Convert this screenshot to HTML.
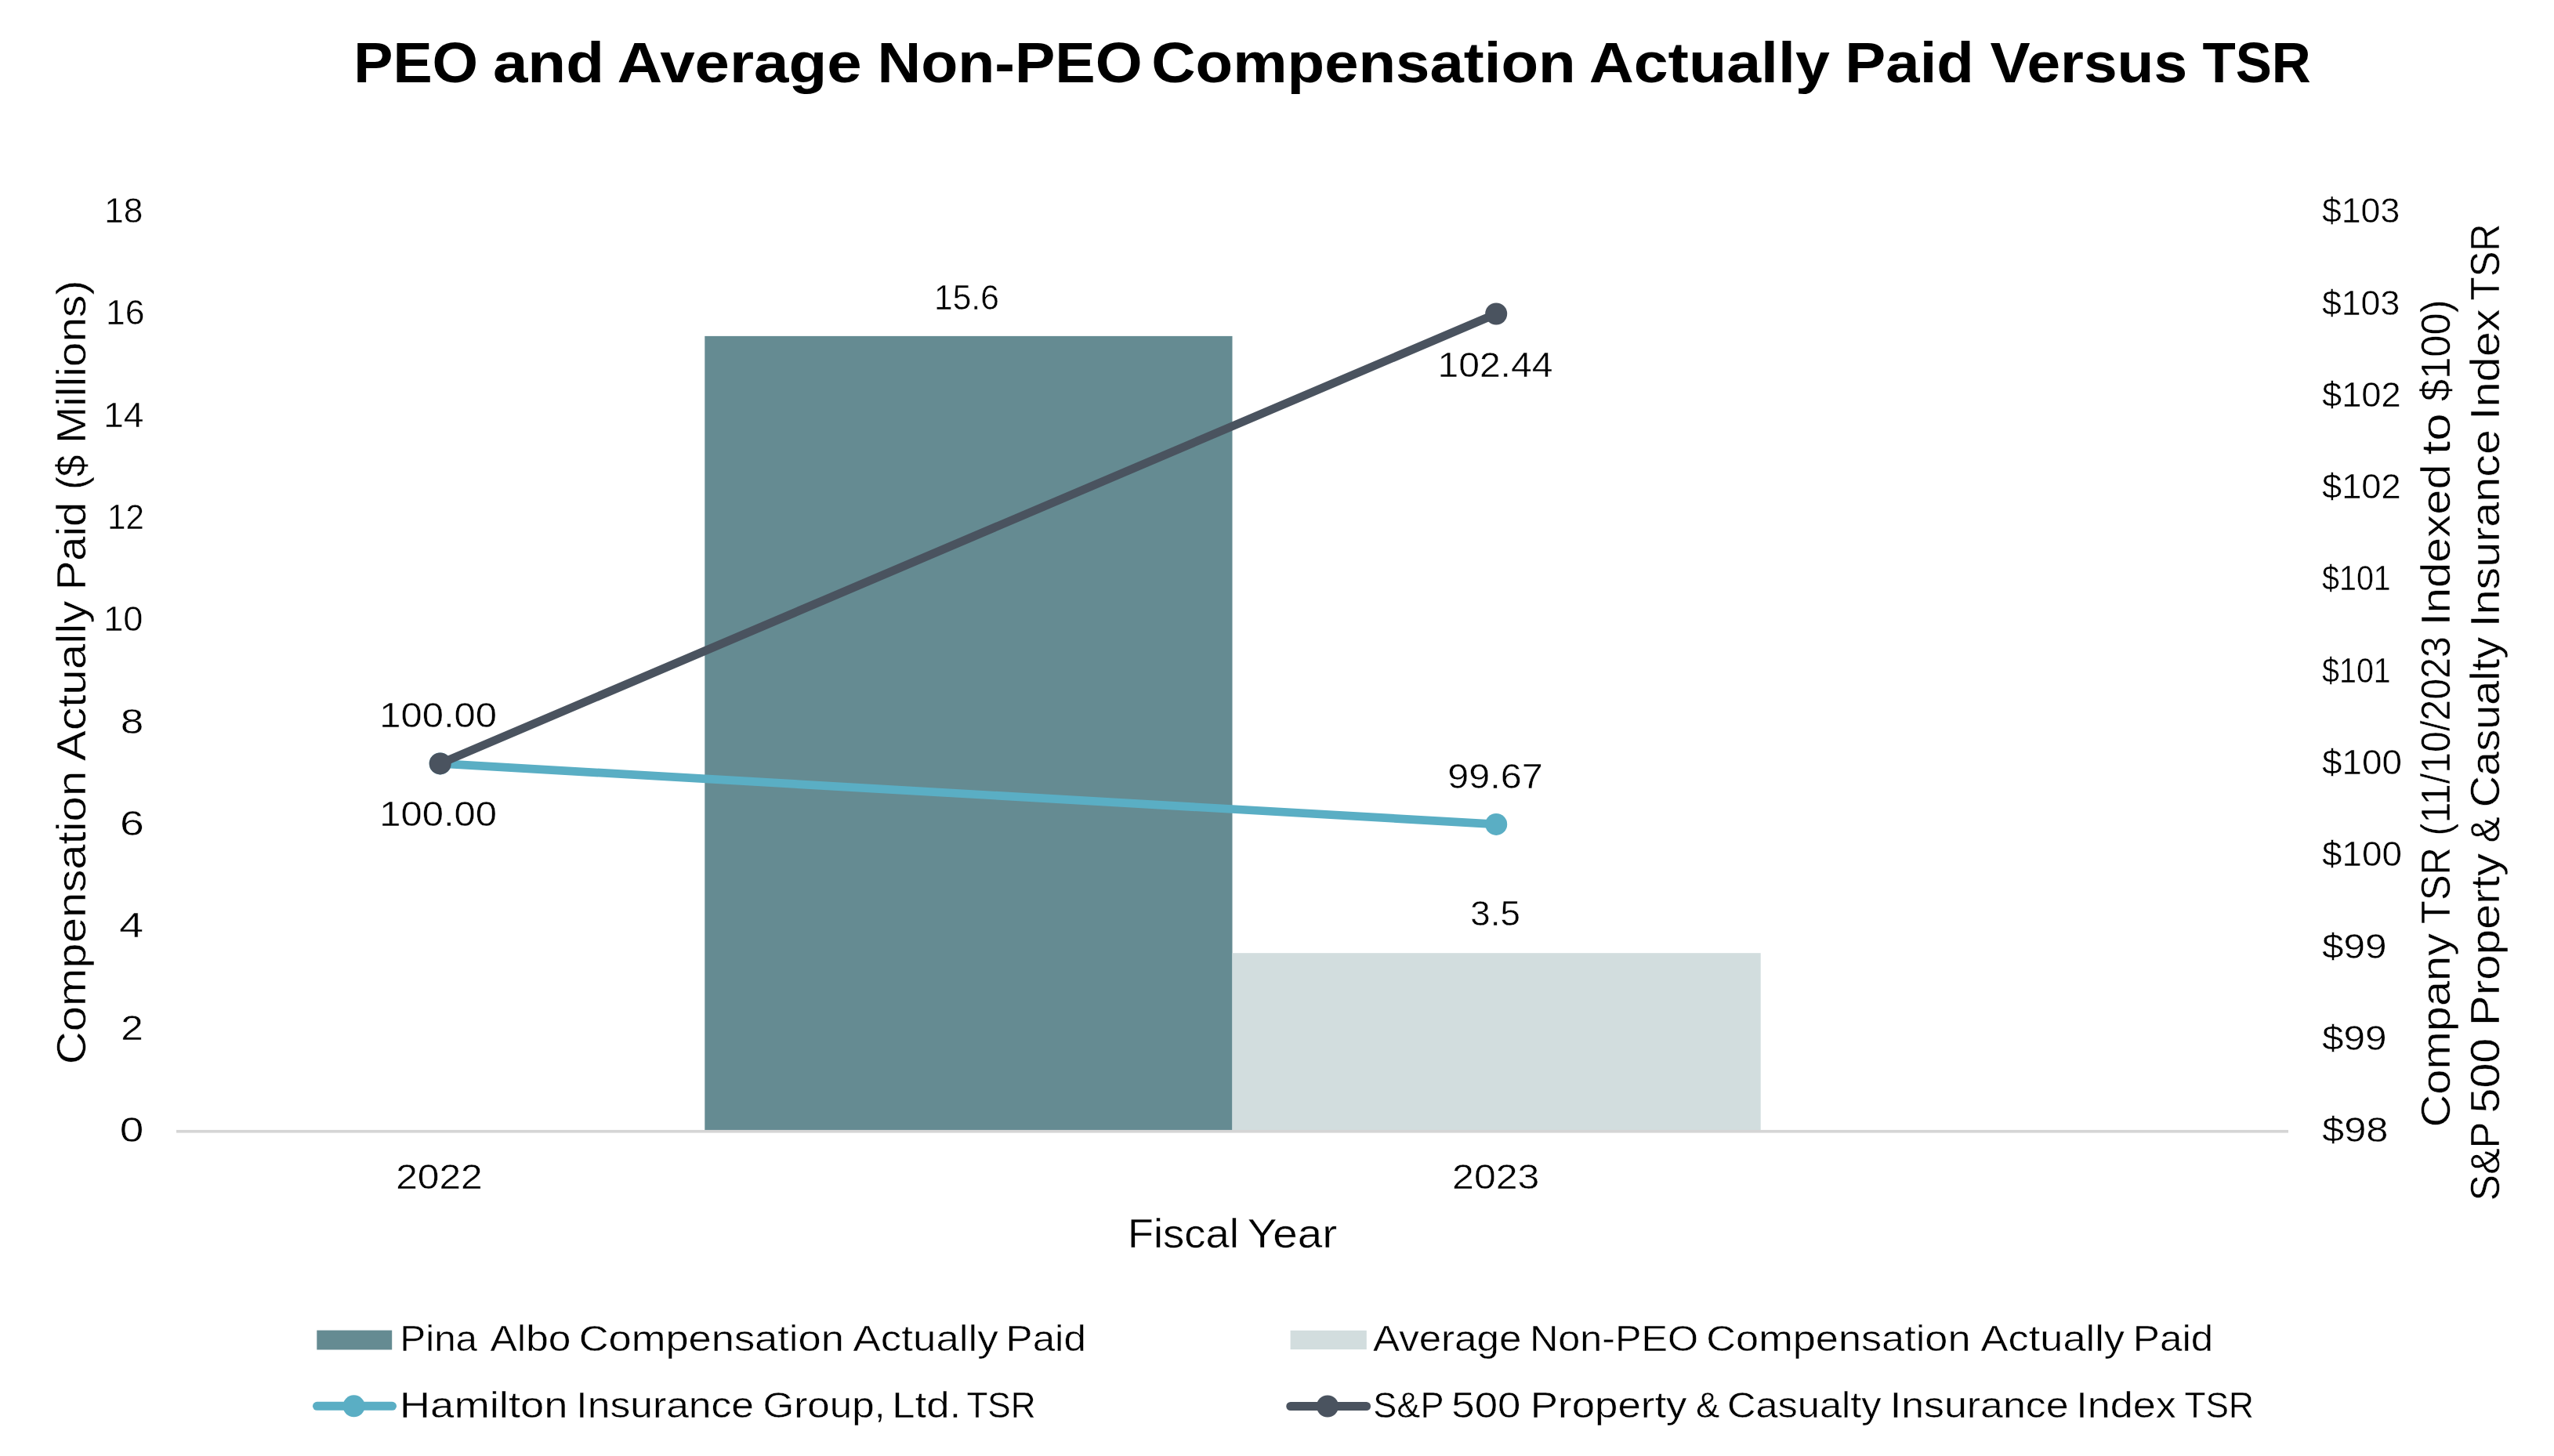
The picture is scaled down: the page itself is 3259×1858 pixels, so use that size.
<!DOCTYPE html>
<html lang="en"><head><meta charset="utf-8"><title>PEO and Average Non-PEO Compensation Actually Paid Versus TSR</title>
<style>
html,body{margin:0;padding:0;background:#fff;}
body{width:3259px;height:1858px;overflow:hidden;}
svg{display:block;will-change:transform;}
text{font-family:"Liberation Sans", Arial, sans-serif;fill:#000000;}
text.r{stroke:#fff;stroke-width:0.45px;}
</style></head><body>
<svg width="3259" height="1858" viewBox="0 0 3259 1858">
<rect x="0" y="0" width="3259" height="1858" fill="#ffffff"/>
<g id="shapes">
<rect x="899.3" y="428.9" width="673.2" height="1014.6" fill="#658B92"/>
<rect x="1572.5" y="1216.2" width="674.2" height="227.3" fill="#D2DDDE"/>
<rect x="225" y="1441.9" width="2695" height="3.7" fill="#D5D5D5"/>
<line x1="561.7" y1="974.4" x2="1909.2" y2="1051.9" stroke="#5AAEC4" stroke-width="10.7" stroke-linecap="round"/>
<circle cx="561.7" cy="974.4" r="14" fill="#5AAEC4"/>
<circle cx="1909.2" cy="1051.9" r="14" fill="#5AAEC4"/>
<line x1="561.7" y1="974.4" x2="1909.2" y2="400.5" stroke="#4A535F" stroke-width="10.7" stroke-linecap="round"/>
<circle cx="561.7" cy="974.4" r="14" fill="#4A535F"/>
<circle cx="1909.2" cy="400.5" r="14" fill="#4A535F"/>
<rect x="404.3" y="1697.6" width="95.9" height="24.8" fill="#658B92"/>
<rect x="1646.6" y="1697.8" width="97.2" height="24.2" fill="#D2DDDE"/>
<line x1="404.5" y1="1794.3" x2="500.5" y2="1794.3" stroke="#5AAEC4" stroke-width="11" stroke-linecap="round"/>
<circle cx="451.6" cy="1794.3" r="14" fill="#5AAEC4"/>
<line x1="1646.8" y1="1794.5" x2="1743.6" y2="1794.5" stroke="#4A535F" stroke-width="11" stroke-linecap="round"/>
<circle cx="1694" cy="1794.5" r="14" fill="#4A535F"/>
</g>
<g id="texts">
<text id="title" y="105.30" font-size="72" font-weight="700"><tspan id="title_0" x="451.30" textLength="158.84" lengthAdjust="spacingAndGlyphs">PEO</tspan> <tspan id="title_1" x="628.90" textLength="142.12" lengthAdjust="spacingAndGlyphs">and</tspan> <tspan id="title_2" x="787.50" textLength="312.19" lengthAdjust="spacingAndGlyphs">Average</tspan> <tspan id="title_3" x="1119.50" textLength="338.07" lengthAdjust="spacingAndGlyphs">Non-PEO</tspan> <tspan id="title_4" x="1469.30" textLength="541.35" lengthAdjust="spacingAndGlyphs">Compensation</tspan> <tspan id="title_5" x="2027.70" textLength="307.17" lengthAdjust="spacingAndGlyphs">Actually</tspan> <tspan id="title_6" x="2354.35" textLength="164.56" lengthAdjust="spacingAndGlyphs">Paid</tspan> <tspan id="title_7" x="2539.50" textLength="251.53" lengthAdjust="spacingAndGlyphs">Versus</tspan> <tspan id="title_8" x="2810.40" textLength="138.37" lengthAdjust="spacingAndGlyphs">TSR</tspan></text>
<text id="lt0" class="r" x="133.20" y="284.20" font-size="45" font-weight="400" textLength="49.25" lengthAdjust="spacingAndGlyphs">18</text>
<text id="lt1" class="r" x="135.01" y="414.49" font-size="45" font-weight="400" textLength="49.49" lengthAdjust="spacingAndGlyphs">16</text>
<text id="lt2" class="r" x="132.16" y="544.78" font-size="45" font-weight="400" textLength="51.31" lengthAdjust="spacingAndGlyphs">14</text>
<text id="lt3" class="r" x="137.08" y="675.07" font-size="45" font-weight="400" textLength="46.83" lengthAdjust="spacingAndGlyphs">12</text>
<text id="lt4" class="r" x="132.24" y="805.36" font-size="45" font-weight="400" textLength="50.19" lengthAdjust="spacingAndGlyphs">10</text>
<text id="lt5" class="r" x="153.70" y="935.65" font-size="45" font-weight="400" textLength="29.59" lengthAdjust="spacingAndGlyphs">8</text>
<text id="lt6" class="r" x="153.00" y="1065.94" font-size="45" font-weight="400" textLength="30.78" lengthAdjust="spacingAndGlyphs">6</text>
<text id="lt7" class="r" x="152.13" y="1196.23" font-size="45" font-weight="400" textLength="31.17" lengthAdjust="spacingAndGlyphs">4</text>
<text id="lt8" class="r" x="154.21" y="1326.52" font-size="45" font-weight="400" textLength="28.53" lengthAdjust="spacingAndGlyphs">2</text>
<text id="lt9" class="r" x="152.66" y="1456.81" font-size="45" font-weight="400" textLength="30.61" lengthAdjust="spacingAndGlyphs">0</text>
<text id="rt0" class="r" x="2963.00" y="284.20" font-size="45" font-weight="400" textLength="99.23" lengthAdjust="spacingAndGlyphs">$103</text>
<text id="rt1" class="r" x="2963.00" y="401.51" font-size="45" font-weight="400" textLength="99.23" lengthAdjust="spacingAndGlyphs">$103</text>
<text id="rt2" class="r" x="2962.99" y="518.82" font-size="45" font-weight="400" textLength="100.68" lengthAdjust="spacingAndGlyphs">$102</text>
<text id="rt3" class="r" x="2962.99" y="636.13" font-size="45" font-weight="400" textLength="100.68" lengthAdjust="spacingAndGlyphs">$102</text>
<text id="rt4" class="r" x="2963.00" y="753.44" font-size="45" font-weight="400" textLength="87.79" lengthAdjust="spacingAndGlyphs">$101</text>
<text id="rt5" class="r" x="2963.00" y="870.75" font-size="45" font-weight="400" textLength="87.79" lengthAdjust="spacingAndGlyphs">$101</text>
<text id="rt6" class="r" x="2963.00" y="988.06" font-size="45" font-weight="400" textLength="101.93" lengthAdjust="spacingAndGlyphs">$100</text>
<text id="rt7" class="r" x="2963.00" y="1105.37" font-size="45" font-weight="400" textLength="101.93" lengthAdjust="spacingAndGlyphs">$100</text>
<text id="rt8" class="r" x="2963.00" y="1222.68" font-size="45" font-weight="400" textLength="82.60" lengthAdjust="spacingAndGlyphs">$99</text>
<text id="rt9" class="r" x="2963.00" y="1339.99" font-size="45" font-weight="400" textLength="82.60" lengthAdjust="spacingAndGlyphs">$99</text>
<text id="rt10" class="r" x="2962.99" y="1457.30" font-size="45" font-weight="400" textLength="84.48" lengthAdjust="spacingAndGlyphs">$98</text>
<text id="x2022" class="r" x="505.20" y="1516.60" font-size="45" font-weight="400" textLength="110.46" lengthAdjust="spacingAndGlyphs">2022</text>
<text id="x2023" class="r" x="1853.11" y="1516.60" font-size="45" font-weight="400" textLength="111.09" lengthAdjust="spacingAndGlyphs">2023</text>
<text id="xtitle" class="r" y="1591.50" font-size="52" font-weight="400"><tspan id="xtitle_0" x="1438.78" textLength="142.10" lengthAdjust="spacingAndGlyphs">Fiscal</tspan> <tspan id="xtitle_1" x="1591.71" textLength="114.54" lengthAdjust="spacingAndGlyphs">Year</tspan></text>
<text id="d156" class="r" x="1192.11" y="394.60" font-size="45" font-weight="400" textLength="82.66" lengthAdjust="spacingAndGlyphs">15.6</text>
<text id="d10244" class="r" x="1834.49" y="480.50" font-size="45" font-weight="400" textLength="146.86" lengthAdjust="spacingAndGlyphs">102.44</text>
<text id="d100a" class="r" x="484.19" y="928.00" font-size="45" font-weight="400" textLength="149.77" lengthAdjust="spacingAndGlyphs">100.00</text>
<text id="d100b" class="r" x="484.19" y="1053.70" font-size="45" font-weight="400" textLength="149.77" lengthAdjust="spacingAndGlyphs">100.00</text>
<text id="d9967" class="r" x="1847.32" y="1005.70" font-size="45" font-weight="400" textLength="121.29" lengthAdjust="spacingAndGlyphs">99.67</text>
<text id="d35" class="r" x="1876.37" y="1181.40" font-size="45" font-weight="400" textLength="63.55" lengthAdjust="spacingAndGlyphs">3.5</text>
<text id="lg1" class="r" y="1723.50" font-size="45.5" font-weight="400"><tspan id="lg1_0" x="510.32" textLength="98.74" lengthAdjust="spacingAndGlyphs">Pina</tspan> <tspan id="lg1_1" x="625.50" textLength="102.97" lengthAdjust="spacingAndGlyphs">Albo</tspan> <tspan id="lg1_2" x="738.70" textLength="338.13" lengthAdjust="spacingAndGlyphs">Compensation</tspan> <tspan id="lg1_3" x="1088.60" textLength="185.12" lengthAdjust="spacingAndGlyphs">Actually</tspan> <tspan id="lg1_4" x="1283.62" textLength="102.28" lengthAdjust="spacingAndGlyphs">Paid</tspan></text>
<text id="lg2" class="r" y="1723.50" font-size="45.5" font-weight="400"><tspan id="lg2_0" x="1752.00" textLength="189.37" lengthAdjust="spacingAndGlyphs">Average</tspan> <tspan id="lg2_1" x="1952.01" textLength="215.18" lengthAdjust="spacingAndGlyphs">Non-PEO</tspan> <tspan id="lg2_2" x="2177.39" textLength="337.10" lengthAdjust="spacingAndGlyphs">Compensation</tspan> <tspan id="lg2_3" x="2527.60" textLength="183.45" lengthAdjust="spacingAndGlyphs">Actually</tspan> <tspan id="lg2_4" x="2721.85" textLength="102.41" lengthAdjust="spacingAndGlyphs">Paid</tspan></text>
<text id="lg3" class="r" y="1808.60" font-size="45.5" font-weight="400"><tspan id="lg3_0" x="509.80" textLength="214.87" lengthAdjust="spacingAndGlyphs">Hamilton</tspan> <tspan id="lg3_1" x="735.37" textLength="226.74" lengthAdjust="spacingAndGlyphs">Insurance</tspan> <tspan id="lg3_2" x="973.59" textLength="156.22" lengthAdjust="spacingAndGlyphs">Group,</tspan> <tspan id="lg3_3" x="1138.24" textLength="87.91" lengthAdjust="spacingAndGlyphs">Ltd.</tspan> <tspan id="lg3_4" x="1233.39" textLength="88.25" lengthAdjust="spacingAndGlyphs">TSR</tspan></text>
<text id="lg4" class="r" y="1808.60" font-size="45.5" font-weight="400"><tspan id="lg4_0" x="1752.31" textLength="89.38" lengthAdjust="spacingAndGlyphs">S&amp;P</tspan> <tspan id="lg4_1" x="1852.31" textLength="88.02" lengthAdjust="spacingAndGlyphs">500</tspan> <tspan id="lg4_2" x="1952.88" textLength="199.62" lengthAdjust="spacingAndGlyphs">Property</tspan> <tspan id="lg4_3" x="2163.98" textLength="30.42" lengthAdjust="spacingAndGlyphs">&amp;</tspan> <tspan id="lg4_4" x="2204.00" textLength="196.55" lengthAdjust="spacingAndGlyphs">Casualty</tspan> <tspan id="lg4_5" x="2411.88" textLength="227.67" lengthAdjust="spacingAndGlyphs">Insurance</tspan> <tspan id="lg4_6" x="2649.28" textLength="127.42" lengthAdjust="spacingAndGlyphs">Index</tspan> <tspan id="lg4_7" x="2787.50" textLength="88.41" lengthAdjust="spacingAndGlyphs">TSR</tspan></text>
<text id="ytitle" class="r" transform="translate(108.60 0) rotate(-90)" y="0" font-size="52" font-weight="400"><tspan id="ytitle_0" x="-1358.26" textLength="374.46" lengthAdjust="spacingAndGlyphs">Compensation</tspan> <tspan id="ytitle_1" x="-970.96" textLength="204.27" lengthAdjust="spacingAndGlyphs">Actually</tspan> <tspan id="ytitle_2" x="-753.11" textLength="112.40" lengthAdjust="spacingAndGlyphs">Paid</tspan> <tspan id="ytitle_3" x="-624.83" textLength="44.40" lengthAdjust="spacingAndGlyphs">($</tspan> <tspan id="ytitle_4" x="-566.12" textLength="208.53" lengthAdjust="spacingAndGlyphs">Millions)</tspan></text>
<text id="y2title1" class="r" transform="translate(3125.60 0) rotate(-90)" y="0" font-size="52" font-weight="400"><tspan id="y2title1_0" x="-1438.48" textLength="247.68" lengthAdjust="spacingAndGlyphs">Company</tspan> <tspan id="y2title1_1" x="-1178.98" textLength="97.77" lengthAdjust="spacingAndGlyphs">TSR</tspan> <tspan id="y2title1_2" x="-1066.60" textLength="254.49" lengthAdjust="spacingAndGlyphs">(11/10/2023</tspan> <tspan id="y2title1_3" x="-798.33" textLength="205.95" lengthAdjust="spacingAndGlyphs">Indexed</tspan> <tspan id="y2title1_4" x="-580.54" textLength="53.39" lengthAdjust="spacingAndGlyphs">to</tspan> <tspan id="y2title1_5" x="-512.02" textLength="129.51" lengthAdjust="spacingAndGlyphs">$100)</tspan></text>
<text id="y2title2" class="r" transform="translate(3189.10 0) rotate(-90)" y="0" font-size="52" font-weight="400"><tspan id="y2title2_0" x="-1532.40" textLength="99.89" lengthAdjust="spacingAndGlyphs">S&amp;P</tspan> <tspan id="y2title2_1" x="-1420.50" textLength="95.70" lengthAdjust="spacingAndGlyphs">500</tspan> <tspan id="y2title2_2" x="-1308.93" textLength="219.93" lengthAdjust="spacingAndGlyphs">Property</tspan> <tspan id="y2title2_3" x="-1075.62" textLength="33.27" lengthAdjust="spacingAndGlyphs">&amp;</tspan> <tspan id="y2title2_4" x="-1030.26" textLength="217.46" lengthAdjust="spacingAndGlyphs">Casualty</tspan> <tspan id="y2title2_5" x="-800.27" textLength="252.08" lengthAdjust="spacingAndGlyphs">Insurance</tspan> <tspan id="y2title2_6" x="-535.66" textLength="141.36" lengthAdjust="spacingAndGlyphs">Index</tspan> <tspan id="y2title2_7" x="-383.20" textLength="97.79" lengthAdjust="spacingAndGlyphs">TSR</tspan></text>
</g>
</svg>
</body></html>
